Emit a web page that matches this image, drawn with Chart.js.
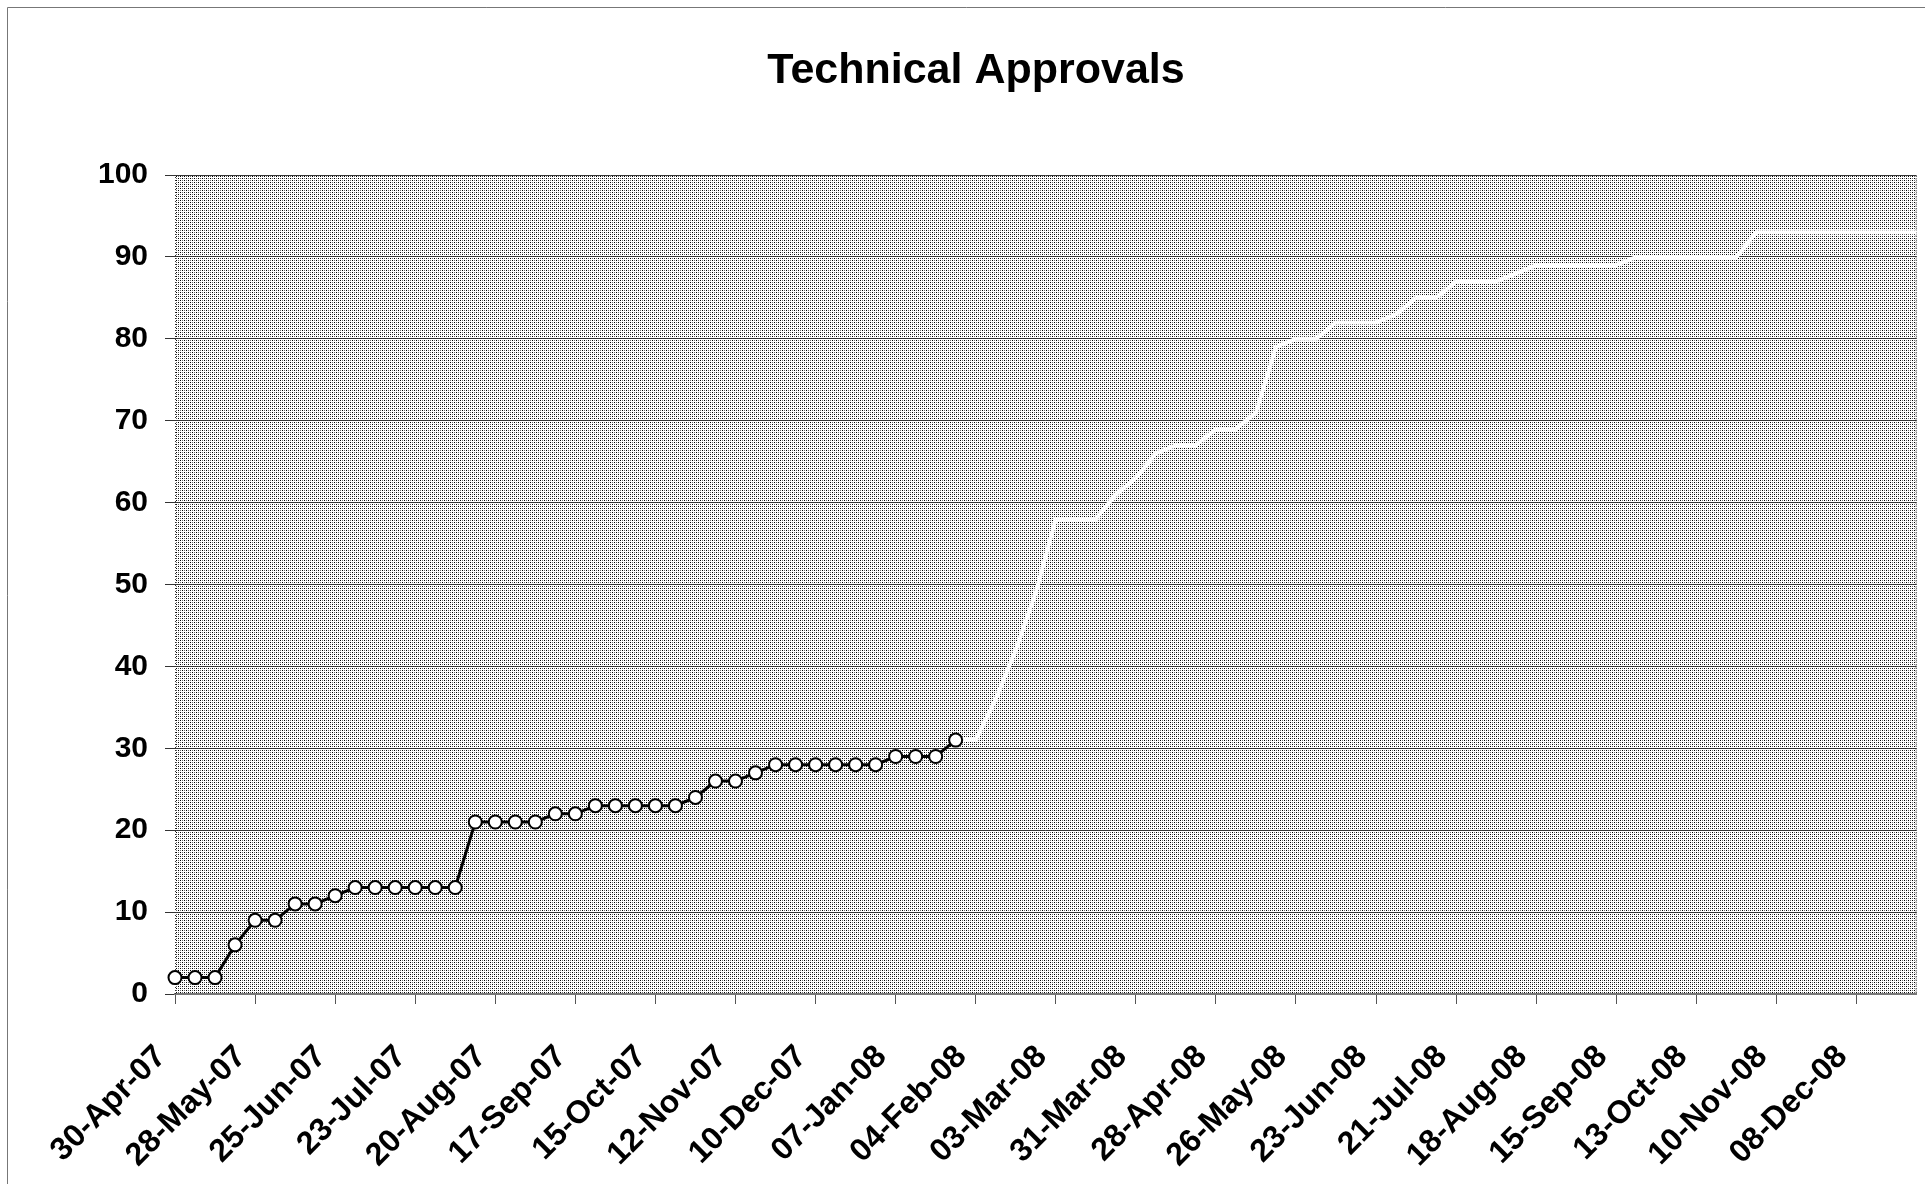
<!DOCTYPE html>
<html>
<head>
<meta charset="utf-8">
<title>Technical Approvals</title>
<script src="https://cdn.jsdelivr.net/npm/chart.js@4.4.1/dist/chart.umd.min.js"></script>
<style>
  html, body { margin: 0; padding: 0; background: #fff; overflow: hidden; }
  #wrap { position: relative; width: 1925px; height: 1184px; }
</style>
</head>
<body>
<div id="wrap"><canvas id="approvals"></canvas></div>
<script>
// weekly reporting dates (Mondays)
var weeks = [
  "30-Apr-07", "07-May-07", "14-May-07", "21-May-07", "28-May-07", "04-Jun-07", "11-Jun-07", "18-Jun-07",
  "25-Jun-07", "02-Jul-07", "09-Jul-07", "16-Jul-07", "23-Jul-07", "30-Jul-07", "06-Aug-07", "13-Aug-07",
  "20-Aug-07", "27-Aug-07", "03-Sep-07", "10-Sep-07", "17-Sep-07", "24-Sep-07", "01-Oct-07", "08-Oct-07",
  "15-Oct-07", "22-Oct-07", "29-Oct-07", "05-Nov-07", "12-Nov-07", "19-Nov-07", "26-Nov-07", "03-Dec-07",
  "10-Dec-07", "17-Dec-07", "24-Dec-07", "31-Dec-07", "07-Jan-08", "14-Jan-08", "21-Jan-08", "28-Jan-08",
  "04-Feb-08", "11-Feb-08", "18-Feb-08", "25-Feb-08", "03-Mar-08", "10-Mar-08", "17-Mar-08", "24-Mar-08",
  "31-Mar-08", "07-Apr-08", "14-Apr-08", "21-Apr-08", "28-Apr-08", "05-May-08", "12-May-08", "19-May-08",
  "26-May-08", "02-Jun-08", "09-Jun-08", "16-Jun-08", "23-Jun-08", "30-Jun-08", "07-Jul-08", "14-Jul-08",
  "21-Jul-08", "28-Jul-08", "04-Aug-08", "11-Aug-08", "18-Aug-08", "25-Aug-08", "01-Sep-08", "08-Sep-08",
  "15-Sep-08", "22-Sep-08", "29-Sep-08", "06-Oct-08", "13-Oct-08", "20-Oct-08", "27-Oct-08", "03-Nov-08",
  "10-Nov-08", "17-Nov-08", "24-Nov-08", "01-Dec-08", "08-Dec-08", "15-Dec-08", "22-Dec-08", "29-Dec-08"
];

// a date label (and tick mark) on every 4th week
var tickEvery = 4;

// cumulative approvals so far, 30-Apr-07 .. 28-Jan-08
var actualApprovals = [2, 2, 2, 6, 9, 9, 11, 11, 12, 13, 13, 13, 13, 13, 13, 21, 21, 21, 21, 22,
  22, 23, 23, 23, 23, 23, 24, 26, 26, 27, 28, 28, 28, 28, 28, 28, 29, 29, 29, 31];

// planned approvals, from the last actual week (28-Jan-08) to 29-Dec-08
var plannedApprovals = [31, 31, 36, 42, 49, 58, 58, 58, 61, 63, 66, 67, 67, 69, 69, 71, 79, 80, 80, 82,
  82, 82, 83, 85, 85, 87, 87, 87, 88, 89, 89, 89, 89, 89, 90, 90, 90, 90, 90, 90,
  93, 93, 93, 93, 93, 93, 93, 93, 93];

var actualData = weeks.map(function (w, i) {
  return i < actualApprovals.length ? actualApprovals[i] : null;
});
var plannedStart = actualApprovals.length - 1;
var plannedData = weeks.map(function (w, i) {
  return i >= plannedStart ? plannedApprovals[i - plannedStart] : null;
});

var fontFamily = "'Liberation Sans', Arial, Helvetica, sans-serif";

// dotted grey fill of the plot area
var dots = (function () {
  var c = document.createElement("canvas");
  c.width = 4; c.height = 4;
  var g = c.getContext("2d");
  g.fillStyle = "#fff";
  g.fillRect(0, 0, 4, 4);
  g.fillStyle = "#000";
  g.fillRect(0, 0, 1, 1);
  g.fillRect(2, 2, 1, 1);
  g.fillStyle = "#6a6a6a";
  g.fillRect(2, 0, 1, 1);
  g.fillRect(0, 2, 1, 1);
  return g.createPattern(c, "repeat");
})();

var backdrop = {
  id: "backdrop",
  beforeDraw: function (chart) {
    var ctx = chart.ctx, a = chart.chartArea;
    ctx.save();
    ctx.fillStyle = "#fff";
    ctx.fillRect(0, 0, chart.width, chart.height);
    ctx.strokeStyle = "#777";
    ctx.lineWidth = 1;
    ctx.beginPath();
    ctx.moveTo(7.5, chart.height);
    ctx.lineTo(7.5, 7.5);
    ctx.lineTo(chart.width, 7.5);
    ctx.stroke();
    ctx.fillStyle = dots;
    ctx.fillRect(a.left, a.top, a.right - a.left, a.bottom - a.top);
    ctx.restore();
  },
  beforeDatasetsDraw: function (chart) {
    var ctx = chart.ctx, a = chart.chartArea;
    ctx.save();
    ctx.strokeStyle = "#333";
    ctx.lineWidth = 1;
    ctx.setLineDash([1, 2]);
    ctx.beginPath();
    ctx.moveTo(a.left + 0.5, a.bottom);
    ctx.lineTo(a.left + 0.5, a.top + 0.5);
    ctx.lineTo(a.right - 0.5, a.top + 0.5);
    ctx.lineTo(a.right - 0.5, a.bottom);
    ctx.stroke();
    ctx.restore();
  }
};

new Chart(document.getElementById("approvals"), {
  type: "line",
  data: {
    labels: weeks,
    datasets: [
      {
        label: "Actual",
        data: actualData,
        borderColor: "#000",
        borderWidth: 3,
        pointRadius: 6.5,
        pointBorderWidth: 2,
        pointBackgroundColor: "#fff",
        pointBorderColor: "#000",
        tension: 0,
        clip: false
      },
      {
        label: "Planned",
        data: plannedData,
        borderColor: "#fff",
        borderWidth: 4,
        pointRadius: 0,
        tension: 0,
        clip: false
      }
    ]
  },
  options: {
    responsive: true,
    maintainAspectRatio: false,
    animation: false,
    layout: { padding: { left: 34, right: 7, top: 0, bottom: 0 } },
    plugins: {
      legend: { display: false },
      tooltip: { enabled: false },
      title: {
        display: true,
        text: "Technical Approvals",
        color: "#000",
        font: { family: fontFamily, size: 43, weight: "bold" },
        padding: { top: 45, bottom: 78.4 }
      }
    },
    scales: {
      x: {
        offset: false,
        grid: { display: true, drawOnChartArea: false, drawTicks: true, tickLength: 10, color: "#555" },
        border: { display: true, color: "#777", width: 2 },
        ticks: {
          autoSkip: false,
          minRotation: 45,
          maxRotation: 45,
          padding: 34,
          labelOffset: -14,
          color: "#000",
          font: { family: fontFamily, size: 32, weight: "bold" },
          callback: function (value) { return this.getLabelForValue(value); }
        },
        afterBuildTicks: function (scale) {
          scale.ticks = scale.ticks.filter(function (t) { return t.value % tickEvery === 0; });
        },
        afterFit: function (scale) { scale.height = 190; }
      },
      y: {
        min: 0,
        max: 100,
        ticks: {
          stepSize: 10,
          padding: 17,
          color: "#000",
          font: { family: fontFamily, size: 30, weight: "bold" }
        },
        grid: { color: "#333", tickLength: 10 },
        border: { display: false },
        afterFit: function (scale) { scale.width = 141; }
      }
    }
  },
  plugins: [backdrop]
});
</script>
</body>
</html>
